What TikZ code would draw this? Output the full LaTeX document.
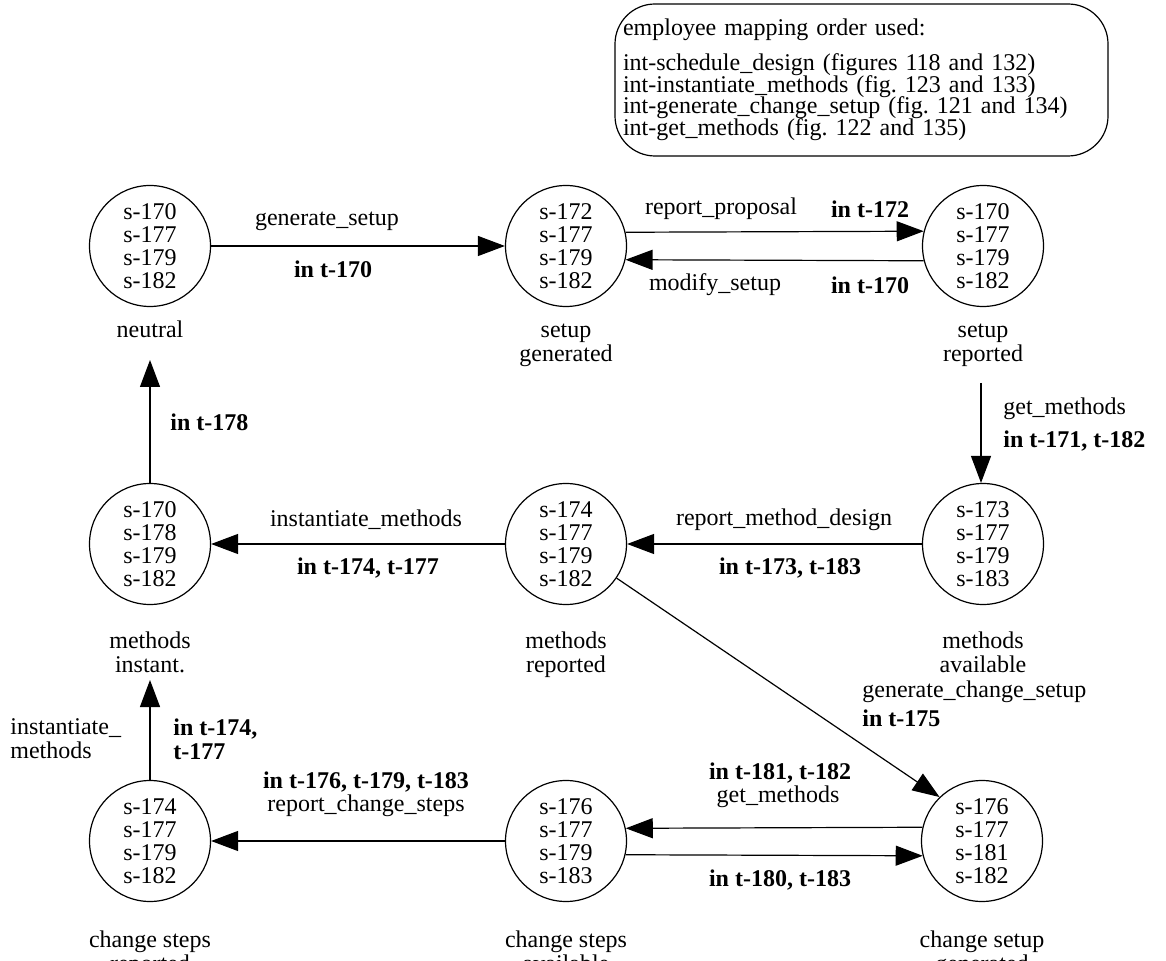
\documentclass[tikz,border=0pt]{standalone}
\usepackage{fontspec}
\setmainfont{Liberation Serif}
\frenchspacing
\usetikzlibrary{arrows.meta}
\newcommand\legendfontsetup{\fontsize{12}{10.75}\selectfont\lineskiplimit=-6pt\relax}
\begin{document}
\begin{tikzpicture}[x=0.5pt,y=-0.5pt,
  state/.style={draw, circle, line width=0.6pt, minimum size=60.5pt, inner sep=0pt, align=center, font=\fontsize{12}{11.5}\selectfont},
  captext/.style={align=center, inner sep=0pt, font=\fontsize{12}{12}\selectfont},
  lbl/.style={inner sep=0pt, font=\fontsize{12}{12}\selectfont},
  blbl/.style={inner sep=0pt, font=\fontsize{12}{12}\selectfont\bfseries},
  arr/.style={line width=0.6pt, -{Triangle[length=13.5pt,width=10pt]}}
]
\useasboundingbox (0,0) rectangle (1166,961);

% legend
\node[draw, line width=0.6pt, rounded corners=20pt, text width=238.5pt, inner xsep=4pt, minimum height=76pt, align=left,
      font=\legendfontsetup] (legend) at (861.5,80)
 {employee mapping order used:\\[6.75pt]
  int-schedule\_design (figures 118 and 132)\\
  int-instantiate\_methods (fig. 123 and 133)\\
  int-generate\_change\_setup (fig. 121 and 134)\\
  int-get\_methods (fig. 122 and 135)};

% states
\node[state] (neutral) at (150,246) {s-170\\s-177\\s-179\\s-182};
\node[state] (sg) at (566,246) {s-172\\s-177\\s-179\\s-182};
\node[state] (sr) at (983,246) {s-170\\s-177\\s-179\\s-182};
\node[state] (mi) at (150,544) {s-170\\s-178\\s-179\\s-182};
\node[state] (mr) at (566,544) {s-174\\s-177\\s-179\\s-182};
\node[state] (ma) at (983,544) {s-173\\s-177\\s-179\\s-183};
\node[state] (csr) at (150,841) {s-174\\s-177\\s-179\\s-182};
\node[state] (csa) at (566,841) {s-176\\s-177\\s-179\\s-183};
\node[state] (csg) at (982,841) {s-176\\s-177\\s-181\\s-182};

% captions
\node[captext] (neutralcap) at (150,333) {\strut neutral};
\node[captext] (sgcap) at (566,345) {\strut setup\\\strut generated};
\node[captext] (srcap) at (983,345) {\strut setup\\\strut reported};
\node[captext] (micap) at (150,656) {\strut methods\\\strut instant.};
\node[captext] (mrcap) at (566,656) {\strut methods\\\strut reported};
\node[captext] (macap) at (983,656) {\strut methods\\\strut available};
\node[captext] (csrcap) at (150,955) {\strut change steps\\\strut reported};
\node[captext] (csacap) at (566,955) {\strut change steps\\\strut available};
\node[captext] (csgcap) at (982,955) {\strut change setup\\\strut generated};

% free ends
\coordinate (srend) at (981,383);
\coordinate (neutralend) at (150,360);
\coordinate (miend) at (150,680);

% connectors
\draw[arr] (neutral) -- (sg);
\draw[arr] (sg.13.4) -- (sr.166.6);
\draw[arr] (sr.-166.6) -- (sg.-13.4);
\draw[arr] (srend) -- (srend |- ma.north);
\draw[arr] (ma) -- (mr);
\draw[arr] (mr) -- (mi);
\draw[arr] (mi) -- (neutralend);
\draw[arr] (mr.-34) -- (csg.134);
\draw[arr] (csg.167.6) -- (csa.12.4);
\draw[arr] (csa.-13.4) -- (csg.-166.6);
\draw[arr] (csa) -- (csr);
\draw[arr] (csr) -- (miend);

% labels
\node[lbl] (l1) at (327,221) {generate\_setup};
\node[blbl] (l1b) at (333,269) {in t-170};
\node[lbl] (l2) at (721,209) {report\_proposal};
\node[blbl] (l2b) at (870,209) {in t-172};
\node[lbl] (l3) at (715,285) {modify\_setup};
\node[blbl] (l3b) at (870,285) {in t-170};
\node[lbl, anchor=west] (l4) at (1003,409) {get\_methods};
\node[blbl, anchor=west] (l4b) at (1003,441) {in t-171, t-182};
\node[lbl] (l5) at (784,520) {report\_method\_design};
\node[blbl] (l5b) at (790,568) {in t-173, t-183};
\node[lbl] (l6) at (366,520) {instantiate\_methods};
\node[blbl] (l6b) at (368,568) {in t-174, t-177};
\node[blbl, anchor=west] (l7) at (170,422) {in t-178};
\node[lbl, anchor=west] (l8) at (862,692) {generate\_change\_setup};
\node[blbl, anchor=west] (l8b) at (862,718) {in t-175};
\node[blbl] (l9) at (780,773) {in t-181, t-182};
\node[lbl] (l9b) at (778,797) {get\_methods};
\node[blbl] (l10) at (780,880) {in t-180, t-183};
\node[blbl] (l11) at (366,782) {in t-176, t-179, t-183};
\node[lbl] (l11b) at (366,806) {report\_change\_steps};
\node[lbl, anchor=west, align=left] (l12) at (10,739) {instantiate\_\\methods};
\node[blbl, anchor=west, align=left] (l12b) at (173,739) {in t-174,\\t-177};
\end{tikzpicture}
\end{document}
